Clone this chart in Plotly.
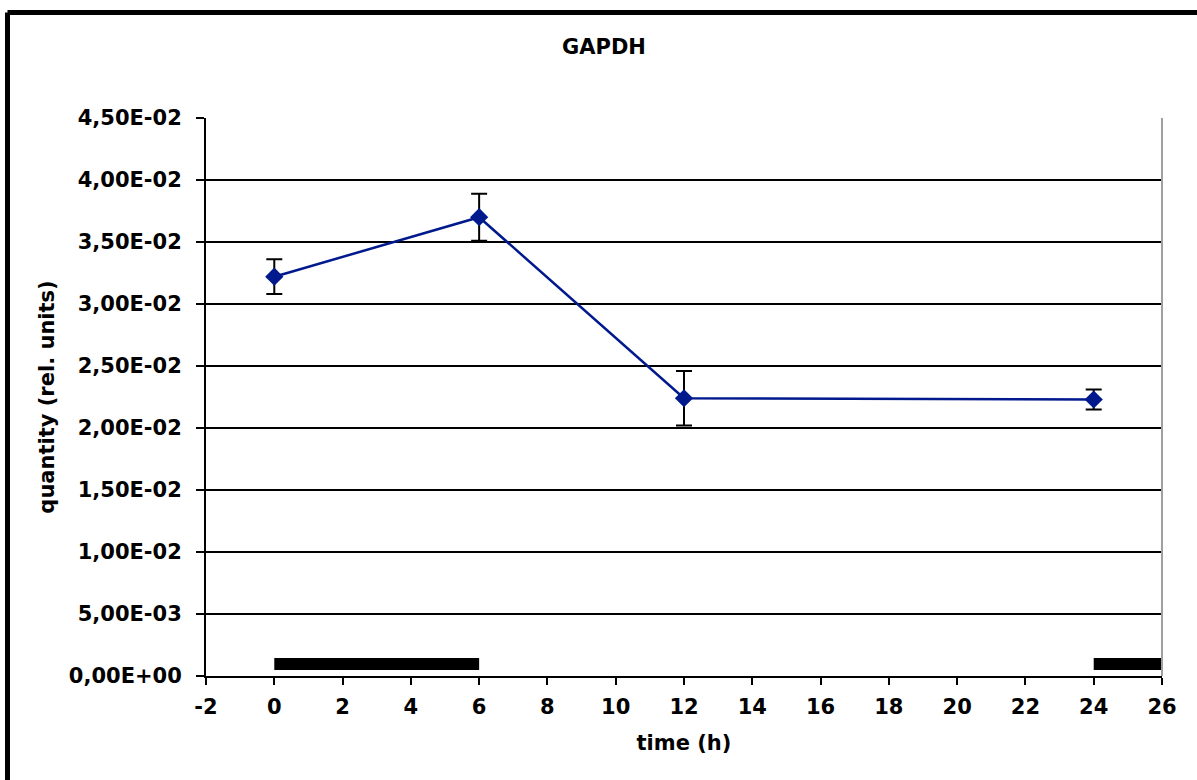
import plotly.graph_objects as go

# Data
time_h = [0, 6, 12, 24]
quantity = [0.0322, 0.0370, 0.0224, 0.0223]
error = [0.0014, 0.0019, 0.0022, 0.0008]

# Dark periods (black bars at bottom)
dark_start = [0, 24]
dark_end = [6, 26]
dark_level = 0.00097

y_tickvals = [0, 0.005, 0.01, 0.015, 0.02, 0.025, 0.03, 0.035, 0.04, 0.045]
y_ticktext = ["0,00E+00", "5,00E-03", "1,00E-02", "1,50E-02", "2,00E-02",
              "2,50E-02", "3,00E-02", "3,50E-02", "4,00E-02", "4,50E-02"]
x_tickvals = [-2, 0, 2, 4, 6, 8, 10, 12, 14, 16, 18, 20, 22, 24, 26]
x_ticktext = ["-2", "0", "2", "4", "6", "8", "10", "12", "14", "16", "18",
              "20", "22", "24", "26"]

FONT = "DejaVu Sans"
BLUE = "#00198C"
FS = 21

fig = go.Figure()

for s, e in zip(dark_start, dark_end):
    fig.add_trace(go.Scatter(x=[s, e], y=[dark_level, dark_level], mode="lines",
                             line=dict(color="black", width=12), hoverinfo="skip",
                             showlegend=False))

fig.add_trace(go.Scatter(
    x=time_h, y=quantity, mode="lines+markers",
    line=dict(color=BLUE, width=2.5),
    marker=dict(symbol="diamond", size=14, color=BLUE),
    error_y=dict(type="data", array=error, visible=True, color="black",
                 thickness=2, width=8),
    showlegend=False,
))

fig.update_layout(
    width=1197, height=780,
    margin=dict(l=206, r=35, t=118, b=104),
    paper_bgcolor="white", plot_bgcolor="white",
    font=dict(family=FONT, size=FS, color="black", weight="bold"),
    title=dict(text="GAPDH", x=(604 - 206) / 956, xref="paper", xanchor="center",
               y=1 - 47 / 780, yref="container", yanchor="middle",
               font=dict(family=FONT, size=FS, color="black", weight="bold")),
    xaxis=dict(range=[-2, 26], tickvals=x_tickvals, ticktext=x_ticktext, showgrid=False,
               showline=True, linecolor="black", linewidth=2,
               ticks="outside", ticklen=7, tickwidth=2, tickcolor="black",
               ticklabelstandoff=4,
               title=dict(text="time (h)", standoff=17,
                          font=dict(family=FONT, size=FS, weight="bold")),
               zeroline=False, mirror=False),
    yaxis=dict(range=[0, 0.045], tickvals=y_tickvals, ticktext=y_ticktext,
               showgrid=True, gridcolor="black", gridwidth=1.5,
               showline=True, linecolor="black", linewidth=2,
               ticks="outside", ticklen=8, tickwidth=2, tickcolor="black",
               ticklabelstandoff=10,
               title=dict(text="quantity (rel. units)", standoff=8,
                          font=dict(family=FONT, size=FS, weight="bold")),
               zeroline=False),
)

# plot-area right border (gray)
fig.add_shape(type="line", xref="paper", yref="paper", x0=1, x1=1, y0=0, y1=1,
              line=dict(color="#A0A0A0", width=2))
# outer chart frame (top and left edges visible)
fig.add_shape(type="line", xref="paper", yref="paper",
              x0=(7.5 - 206) / 956, x1=1.05, y0=(676 - 12.5) / 558, y1=(676 - 12.5) / 558,
              line=dict(color="black", width=5))
fig.add_shape(type="line", xref="paper", yref="paper",
              x0=(7.5 - 206) / 956, x1=(7.5 - 206) / 956, y0=(676 - 12.5) / 558, y1=-0.25,
              line=dict(color="black", width=5))

fig.write_html("out.html")
